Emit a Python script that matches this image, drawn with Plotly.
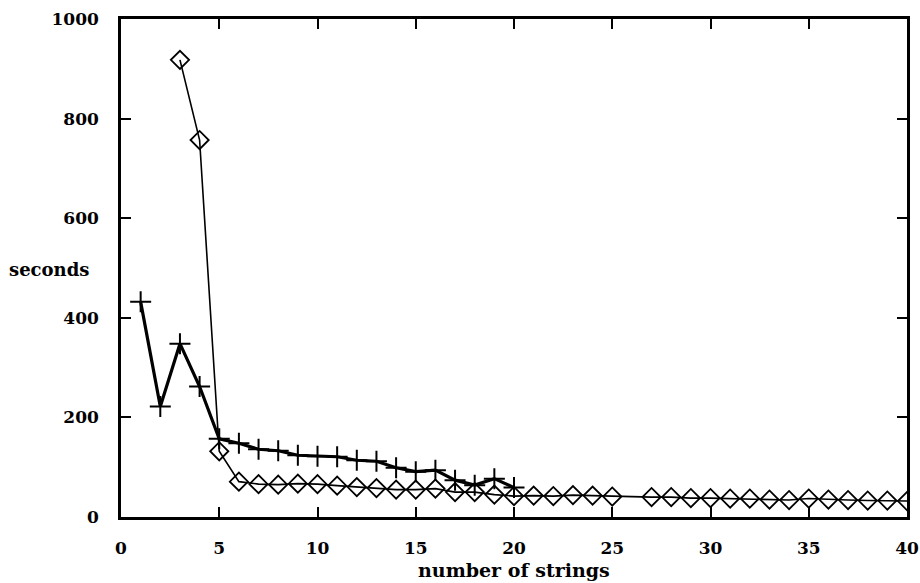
import plotly.graph_objects as go

# Data
plus_x = list(range(1, 21))
plus_y = [432, 222, 348, 262, 157, 148, 136, 133, 124, 122, 121, 114, 112, 99, 91, 94, 74, 64, 77, 59]

diamond_x = list(range(3, 26)) + list(range(27, 41))
diamond_y = [918, 757, 132, 71, 66, 65, 67, 66, 63, 60, 58, 55, 55, 57, 50, 50, 45, 42, 43, 42, 44, 43, 41,
             40, 40, 38, 38, 37, 37, 35, 34, 37, 35, 34, 33, 33, 32]

x_ticks = [0, 5, 10, 15, 20, 25, 30, 35, 40]
y_ticks = [0, 200, 400, 600, 800, 1000]

FONT = "DejaVu Serif"

fig = go.Figure()
fig.add_trace(go.Scatter(
    x=plus_x, y=plus_y, mode="lines+markers",
    line=dict(color="black", width=3.2),
    marker=dict(symbol="cross-thin-open", size=15, line=dict(color="black", width=2)),
    showlegend=False,
))
fig.add_trace(go.Scatter(
    x=diamond_x, y=diamond_y, mode="lines+markers",
    line=dict(color="black", width=1.6),
    marker=dict(symbol="diamond-open", size=14, color="black", line=dict(color="black", width=1.8)),
    showlegend=False,
))

axis_common = dict(
    showgrid=False, zeroline=False, showline=True, linecolor="black", linewidth=2.5,
    mirror="ticks", ticks="inside", ticklen=10, tickwidth=2.2, tickcolor="black",
    tickfont=dict(family=FONT, size=17, color="black", weight="bold"),
    ticklabeloverflow="allow", automargin=False,
)

fig.update_xaxes(range=[0, 40], tickvals=x_ticks, ticklabelstandoff=14, **axis_common)
fig.update_yaxes(range=[0, 1000], tickvals=y_ticks, ticklabelstandoff=16, **axis_common)

fig.add_annotation(text="seconds", x=0, xref="paper", xanchor="right", xshift=-30,
                   y=0.496, yref="paper", showarrow=False,
                   font=dict(family=FONT, size=18, color="black", weight="bold"))
fig.add_annotation(text="number of strings", x=0.5, xref="paper", y=0, yref="paper",
                   yanchor="middle", yshift=-53, showarrow=False,
                   font=dict(family=FONT, size=19, color="black", weight="bold"))

fig.update_layout(
    width=920, height=583,
    margin=dict(l=121, r=13, t=19, b=66),
    plot_bgcolor="white", paper_bgcolor="white",
)

fig.write_html("out.html")
